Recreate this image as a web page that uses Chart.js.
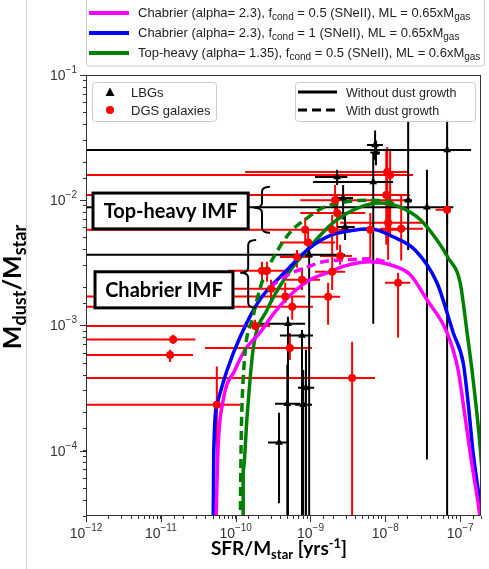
<!DOCTYPE html>
<html><head><meta charset="utf-8">
<script src="https://cdn.jsdelivr.net/npm/chart.js@4.4.1/dist/chart.umd.min.js"></script>
<style>
html,body{margin:0;padding:0;background:#fff;}
#c{display:block;}
</style></head>
<body><canvas id="c" width="489" height="569"></canvas>
<script>
// model curves, x = SFR/Mstar [yr^-1], y = Mdust/Mstar
const chabX = [5.4e-11,5.8e-11,6.8e-11,9.8e-11,1.34e-10,2.1e-10,3.36e-10,5.8e-10,9.9e-10,1.67e-9,2.9e-9,6.3e-9,1.16e-8,2.15e-8,3.6e-8,6.7e-8,9.4e-8,1.1e-7,1.36e-7,1.74e-7,2.16e-7];
const chabY = [2e-5,1.0e-4,2.5e-4,4.4e-4,6.4e-4,8.7e-4,1.28e-3,1.82e-3,2.31e-3,2.63e-3,2.99e-3,3.22e-3,3.05e-3,2.54e-3,1.6e-3,8.7e-4,4.4e-4,2.37e-4,9.6e-5,3.8e-5,1.5e-5];
const chabDustX = [2.88e-10,5.3e-10,8.5e-10,1.47e-9,2.9e-9,6.3e-9,1.16e-8];
const chabDustY = [2.03e-3,2.58e-3,2.88e-3,3.22e-3,3.34e-3,3.4e-3,3.16e-3];
const chabF1X = [5.0e-11,5.1e-11,5.8e-11,7.7e-11,1.15e-10,2.1e-10,4.9e-10,9.0e-10,1.67e-9,3.4e-9,6.3e-9,1.27e-8,2.5e-8,4.9e-8,8.1e-8,1.1e-7,1.28e-7,1.49e-7,1.85e-7,2.3e-7];
const chabF1Y = [2e-5,1.0e-4,2.5e-4,4.4e-4,8.1e-4,1.6e-3,2.78e-3,4.0e-3,5.1e-3,5.7e-3,5.9e-3,5.1e-3,4.0e-3,2.19e-3,8.7e-4,5.0e-4,2.4e-4,9.6e-5,3.8e-5,1.5e-5];
const topX = [1.26e-10,1.26e-10,1.42e-10,1.71e-10,2.63e-10,4.9e-10,9.0e-10,2.0e-9,4.6e-9,8.5e-9,1.58e-8,2.92e-8,4.9e-8,6.9e-8,1.0e-7,1.24e-7,1.49e-7,1.85e-7,2.35e-7];
const topY = [2e-5,7e-5,1.86e-4,6.4e-4,1.33e-3,2.54e-3,4.0e-3,6.6e-3,8.8e-3,9.5e-3,8.8e-3,7.0e-3,4.8e-3,3.47e-3,2.19e-3,8.7e-4,3.7e-4,1.07e-4,1.5e-5];
const topDustX = [1.15e-10,1.18e-10,1.26e-10,1.71e-10,2.3e-10,3.36e-10,5.3e-10,9.0e-10,1.47e-9,2.49e-9,5.7e-9,9.9e-9,1.58e-8];
const topDustY = [2e-5,1.0e-4,3.7e-4,1.17e-3,2.31e-3,3.66e-3,5.5e-3,7.2e-3,8.7e-3,9.5e-3,1.0e-2,9.9e-3,8.8e-3];

// LBGs (value, error range)
const lbgX   = [6.7e-8,7.3e-9,7.5e-9,2.27e-9,6.9e-9,2.73e-9,2.9e-9,3.6e-8,2.02e-8,5.0e-10,7.7e-10,4.9e-10,8.0e-10,8.7e-10,3.8e-10,9.6e-10];
const lbgY   = [2.52e-2,2.76e-2,2.4e-2,1.53e-2,1.4e-2,1.04e-2,6.1e-3,8.8e-3,1.0e-2,1.03e-3,8.3e-4,2.37e-4,2.32e-4,3.18e-4,1.16e-4,3.66e-3];
const lbgXlo = [1e-13,5.7e-9,6.3e-9,1.15e-9,1.08e-9,1.95e-9,2.27e-9,1e-13,1.78e-8,1.93e-10,3.9e-10,3.36e-10,6.2e-10,6.8e-10,2.71e-10,1e-13];
const lbgXhi = [1.4e-7,9.3e-9,8.5e-9,3.1e-9,1.27e-8,3.7e-9,3.9e-9,8.1e-8,2.28e-8,8.5e-10,1.08e-9,7.3e-10,1.05e-9,1.12e-9,4.9e-10,2.9e-9];
const lbgYlo = [1e-5,2.1e-2,1.9e-2,1.32e-2,1.03e-3,7.0e-3,4.8e-3,8.5e-5,4.0e-3,1e-5,1e-5,1e-5,1e-5,1e-5,3.8e-5,1e-5];
const lbgYhi = [4.4e-2,3.6e-2,3.0e-2,1.75e-2,2.38e-2,1.32e-2,7.6e-3,1.75e-2,4.4e-2,1.17e-3,9.2e-4,4.85e-4,4.4e-4,6.4e-4,2.0e-4,4.6e-3];

// DGS galaxies
const dgsX   = [1.46e-11,1.33e-11,5.6e-11,3.6e-9,1.82e-10,5.3e-10,5.7e-10,4.6e-10,2.97e-10,2.25e-10,2.63e-10,6.6e-10,7.7e-10,1.95e-9,1.72e-9,2.49e-9,1.48e-8,8.5e-10,9.3e-10,1.95e-9,2.13e-9,2.27e-9,6.3e-9,1.06e-8,1.16e-8,1.03e-8,1.09e-8,1.63e-8,6.7e-8];
const dgsY   = [7.7e-4,5.8e-4,2.32e-4,3.8e-4,9.9e-4,6.6e-4,1.41e-3,1.7e-3,1.96e-3,2.73e-3,2.73e-3,3.52e-3,2.31e-3,2.68e-3,1.69e-3,3.59e-3,2.19e-3,5.8e-3,4.6e-3,5.8e-3,1.0e-2,7.9e-3,5.8e-3,1.68e-2,1.59e-2,1.1e-2,6.6e-3,5.9e-3,8.4e-3];
const dgsXlo = [1e-13,1e-13,1e-13,1e-13,1e-13,3.9e-11,1e-13,1e-13,7.2e-11,7.9e-11,1.15e-10,3.9e-10,4.6e-10,1.15e-9,9.9e-10,1.34e-9,9.9e-9,1e-13,3.9e-10,7.3e-10,7.3e-10,7.3e-10,4.6e-9,1.34e-10,1e-13,1e-13,2.49e-9,8.5e-9,4.7e-8];
const dgsXhi = [2.9e-11,2.7e-11,1.15e-10,7.3e-9,2.88e-10,1.05e-9,1.08e-9,8.5e-10,7.3e-10,4.3e-10,5.3e-10,1.05e-9,1.34e-9,2.9e-9,2.49e-9,3.6e-9,2.15e-8,1.83e-9,2.13e-9,5.4e-9,1.84e-8,5.4e-9,1.48e-8,2.02e-8,2.35e-8,2.15e-8,3.4e-8,3.2e-8,7.5e-8];
const dgsYlo = [7.1e-4,5.1e-4,1e-5,1e-5,9.2e-4,5.3e-4,1.11e-3,1.51e-3,1.6e-3,2.23e-3,2.23e-3,2.88e-3,1.92e-3,1.92e-3,1.01e-3,3.05e-3,8.0e-4,4.4e-3,3.66e-3,3.34e-3,7.6e-3,4.0e-3,3.3e-3,5.8e-3,5.3e-3,4.4e-3,3.34e-3,3.3e-3,6.6e-3];
const dgsYhi = [8.4e-4,6.4e-4,4.7e-4,7.4e-4,1.11e-3,8.7e-4,1.69e-3,2.19e-3,2.31e-3,3.22e-3,3.22e-3,4.0e-3,2.88e-3,3.34e-3,2.19e-3,4.4e-3,2.63e-3,7.2e-3,5.6e-3,7.6e-3,1.32e-2,1.1e-2,7.9e-3,2.66e-2,2.52e-2,2.52e-2,1.04e-2,1.1e-2,1.0e-2];

const xTickExp = [-12,-11,-10,-9,-8,-7];
const yTickExp = [-1,-2,-3,-4];

// annotation boxes and braces, in data units
const imfBoxes = [
  {text:'Top-heavy IMF', x0:1.24e-12, x1:1.47e-10, y0:1.14e-2, y1:5.9e-3},
  {text:'Chabrier IMF',  x0:1.32e-12, x1:9.2e-11,  y0:2.68e-3, y1:1.38e-3}
];
const imfBraces = [
  {x:2.25e-10, hook:2.88e-10, nib:1.76e-10, top:1.28e-2, mid:8.7e-3, bot:5.5e-3},
  {x:1.47e-10, hook:1.88e-10, nib:1.15e-10, top:4.8e-3,  mid:2.63e-3, bot:1.38e-3}
];

const pts = (xs, ys) => xs.map((x,i)=>({x, y:ys[i]}));
const curve = (xs, ys, color, dash) => ({ data:pts(xs,ys), showLine:true, borderColor:color, borderWidth:3.5,
  borderDash:dash||[], pointRadius:0, fill:false, cubicInterpolationMode:'monotone', order:1 });

const REG = '"Liberation Sans", Arial, sans-serif';
const BOLD = 'Lato, "Open Sans", sans-serif';

function rich(ctx, parts, x, y, align){
  let w = 0;
  parts.forEach(p=>{ ctx.font = p[1]; w += ctx.measureText(p[0]).width; });
  let cx = align==='center' ? x-w/2 : align==='right' ? x-w : x;
  parts.forEach(p=>{ ctx.font = p[1]; ctx.fillText(p[0], cx, y+(p[2]||0)); cx += ctx.measureText(p[0]).width; });
}

function errBars(ctx, xs, ys, xl, xh, yl, yh, sx, sy, color){
  ctx.strokeStyle = color; ctx.lineWidth = 2; ctx.beginPath();
  xs.forEach((x,i)=>{
    const px = sx.getPixelForValue(x), py = sy.getPixelForValue(ys[i]);
    ctx.moveTo(sx.getPixelForValue(xl[i]), py); ctx.lineTo(sx.getPixelForValue(xh[i]), py);
    ctx.moveTo(px, sy.getPixelForValue(yl[i])); ctx.lineTo(px, sy.getPixelForValue(yh[i]));
  });
  ctx.stroke();
}

function rrect(ctx, x, y, w, h, r){
  ctx.beginPath(); ctx.moveTo(x+r,y); ctx.arcTo(x+w,y,x+w,y+h,r); ctx.arcTo(x+w,y+h,x,y+h,r);
  ctx.arcTo(x,y+h,x,y,r); ctx.arcTo(x,y,x+w,y,r); ctx.closePath();
}

const deco = {
  id:'deco',
  beforeDatasetsDraw(chart){
    const {ctx, chartArea:a, scales:{x:sx, y:sy}} = chart;
    ctx.save();
    ctx.beginPath(); ctx.rect(a.left, a.top, a.right-a.left, a.bottom-a.top); ctx.clip();
    errBars(ctx, dgsX, dgsY, dgsXlo, dgsXhi, dgsYlo, dgsYhi, sx, sy, '#ff0000');
    errBars(ctx, lbgX, lbgY, lbgXlo, lbgXhi, lbgYlo, lbgYhi, sx, sy, '#000000');
    ctx.restore();
  },
  afterDatasetsDraw(chart){
    const {ctx, scales:{x:sx, y:sy}} = chart;
    ctx.save();
    // IMF boxes
    imfBoxes.forEach(b=>{
      const x0 = sx.getPixelForValue(b.x0), x1 = sx.getPixelForValue(b.x1);
      const y0 = sy.getPixelForValue(b.y0), y1 = sy.getPixelForValue(b.y1);
      ctx.fillStyle = '#fff'; ctx.fillRect(x0, y0, x1-x0, y1-y0);
      ctx.strokeStyle = '#000'; ctx.lineWidth = 3; ctx.strokeRect(x0, y0, x1-x0, y1-y0);
      ctx.fillStyle = '#000'; ctx.textAlign = 'center'; ctx.textBaseline = 'middle';
      ctx.font = 'bold 20px ' + BOLD; ctx.fillText(b.text, (x0+x1)/2, (y0+y1)/2+1);
    });
    // braces
    ctx.strokeStyle = '#000'; ctx.lineWidth = 2;
    imfBraces.forEach(b=>{
      const x = sx.getPixelForValue(b.x), h = sx.getPixelForValue(b.hook), n = sx.getPixelForValue(b.nib);
      const t = sy.getPixelForValue(b.top), m = sy.getPixelForValue(b.mid), d = sy.getPixelForValue(b.bot);
      const r = 5;
      ctx.beginPath();
      ctx.moveTo(h, t); ctx.quadraticCurveTo(x, t, x, t+r);
      ctx.lineTo(x, m-r); ctx.quadraticCurveTo(x, m, n, m);
      ctx.quadraticCurveTo(x, m, x, m+r);
      ctx.lineTo(x, d-r); ctx.quadraticCurveTo(x, d, h, d);
      ctx.stroke();
    });
    ctx.restore();
  },
  afterDraw(chart){
    const {ctx, chartArea:a, scales:{x:sx, y:sy}} = chart;
    ctx.save();
    // page rule at the left
    ctx.strokeStyle = '#d0d0d0'; ctx.lineWidth = 1;
    ctx.beginPath(); ctx.moveTo(26.5, 0); ctx.lineTo(26.5, 569); ctx.stroke();
    // frame
    ctx.strokeStyle = '#333'; ctx.lineWidth = 1;
    ctx.strokeRect(a.left+0.5, a.top+0.5, a.right-a.left-1, a.bottom-a.top-1);
    // major ticks + labels
    ctx.fillStyle = '#333'; ctx.textBaseline = 'alphabetic'; ctx.textAlign = 'left';
    ctx.beginPath();
    xTickExp.forEach(e=>{
      const px = Math.round(sx.getPixelForValue(Math.pow(10,e)))+0.5;
      ctx.moveTo(px, a.bottom); ctx.lineTo(px, a.bottom+6);
    });
    yTickExp.forEach(e=>{
      const py = Math.round(sy.getPixelForValue(Math.pow(10,e)))+0.5;
      ctx.moveTo(a.left, py); ctx.lineTo(a.left-6, py);
    });
    ctx.stroke();
    const N = '14px ' + REG, E = '10px ' + REG;
    xTickExp.forEach(e=>{
      const px = sx.getPixelForValue(Math.pow(10,e));
      rich(ctx, [['10',N],['\u2212'+(-e),E,-7]], px, a.bottom+22, 'center');
    });
    yTickExp.forEach(e=>{
      const py = sy.getPixelForValue(Math.pow(10,e));
      rich(ctx, [['10',N],['\u2212'+(-e),E,-7]], a.left-9, py+5, 'right');
    });
    // axis titles
    ctx.fillStyle = '#000';
    const B = 'bold 19px ' + BOLD, Bs = 'bold 13px ' + BOLD;
    rich(ctx, [['SFR/M',B],['star',Bs,4],[' [yrs',B],['-1',Bs,-7],[']',B]], 279, 555, 'center');
    ctx.save(); ctx.translate(21, 287); ctx.rotate(-Math.PI/2);
    rich(ctx, [['M','bold 25px '+BOLD],['dust','bold 18px '+BOLD,5],['/M','bold 25px '+BOLD],['star','bold 18px '+BOLD,5]], 0, 0, 'center');
    ctx.restore();
    // top legend (model curves)
    ctx.strokeStyle = '#cccccc'; ctx.lineWidth = 1;
    rrect(ctx, 86.5, -10, 398, 76, 3); ctx.stroke();
    const L = '13px ' + REG, Ls = '10px ' + REG;
    const models = [
      ['#ff00ff', [['Chabrier (alpha= 2.3), f',L],['cond',Ls,3],[' = 0.5 (SNeII), ML = 0.65xM',L],['gas',Ls,3]]],
      ['#0000ff', [['Chabrier (alpha= 2.3), f',L],['cond',Ls,3],[' = 1 (SNeII), ML = 0.65xM',L],['gas',Ls,3]]],
      ['#008000', [['Top-heavy (alpha= 1.35), f',L],['cond',Ls,3],[' = 0.5 (SNeII), ML = 0.6xM',L],['gas',Ls,3]]]
    ];
    ctx.fillStyle = '#222';
    models.forEach((m,i)=>{
      const y = 13 + i*20;
      ctx.strokeStyle = m[0]; ctx.lineWidth = 4;
      ctx.beginPath(); ctx.moveTo(89, y); ctx.lineTo(129, y); ctx.stroke();
      rich(ctx, m[1], 138, y+4, 'left');
    });
    // inner legends
    ctx.strokeStyle = '#cccccc'; ctx.lineWidth = 1;
    rrect(ctx, 92.5, 82.5, 124, 39, 3); ctx.fillStyle = 'rgba(255,255,255,0.85)'; ctx.fill(); ctx.stroke();
    rrect(ctx, 295.5, 82.5, 180, 39, 3); ctx.fill(); ctx.stroke();
    ctx.fillStyle = '#000';
    ctx.beginPath(); ctx.moveTo(110, 87.5); ctx.lineTo(114.5, 96); ctx.lineTo(105.5, 96); ctx.closePath(); ctx.fill();
    ctx.fillStyle = '#ff0000';
    ctx.beginPath(); ctx.arc(110, 110, 4, 0, Math.PI*2); ctx.fill();
    ctx.fillStyle = '#222'; ctx.font = '13px ' + REG; ctx.textAlign = 'left';
    ctx.fillText('LBGs', 131, 96.5); ctx.fillText('DGS galaxies', 131, 114.5);
    ctx.strokeStyle = '#000'; ctx.lineWidth = 3;
    ctx.beginPath(); ctx.moveTo(298, 92); ctx.lineTo(337, 92); ctx.stroke();
    ctx.setLineDash([9,5]); ctx.beginPath(); ctx.moveTo(298, 110); ctx.lineTo(337, 110); ctx.stroke(); ctx.setLineDash([]);
    ctx.font = '12.5px ' + REG;
    ctx.fillText('Without dust growth', 346, 96.5); ctx.fillText('With dust growth', 346, 114.5);
    ctx.restore();
  }
};

new Chart(document.getElementById('c'), {
  type:'scatter',
  data:{ datasets:[
    { label:'DGS galaxies', data:pts(dgsX,dgsY), pointStyle:'circle', pointRadius:4, backgroundColor:'#ff0000', borderColor:'#ff0000', borderWidth:0, order:0 },
    { label:'LBGs', data:pts(lbgX,lbgY), pointStyle:'triangle', pointRadius:4.5, backgroundColor:'#000', borderColor:'#000', borderWidth:0, order:0 },
    curve(topDustX, topDustY, '#008000', [9,5]),
    curve(chabDustX, chabDustY, '#ff00ff', [9,5]),
    curve(chabX, chabY, '#ff00ff'),
    curve(chabF1X, chabF1Y, '#0000ff'),
    curve(topX, topY, '#008000')
  ]},
  options:{
    responsive:false, animation:false, devicePixelRatio:1,
    layout:{ padding:{ top:75, right:8, left:0, bottom:0 } },
    plugins:{ legend:{ display:false }, tooltip:{ enabled:false } },
    scales:{
      x:{ type:'logarithmic', min:1e-12, max:1.9e-7, afterFit:s=>{ s.height = 53; },
          border:{ display:false }, grid:{ drawOnChartArea:false, tickLength:3, color:'#333' },
          ticks:{ autoSkip:false, maxRotation:0, callback:()=>'' } },
      y:{ type:'logarithmic', min:3e-5, max:0.1, afterFit:s=>{ s.width = 86; },
          border:{ display:false }, grid:{ drawOnChartArea:false, tickLength:3, color:'#333' },
          ticks:{ autoSkip:false, callback:()=>'' } }
    }
  },
  plugins:[deco]
});
</script>
</body></html>
